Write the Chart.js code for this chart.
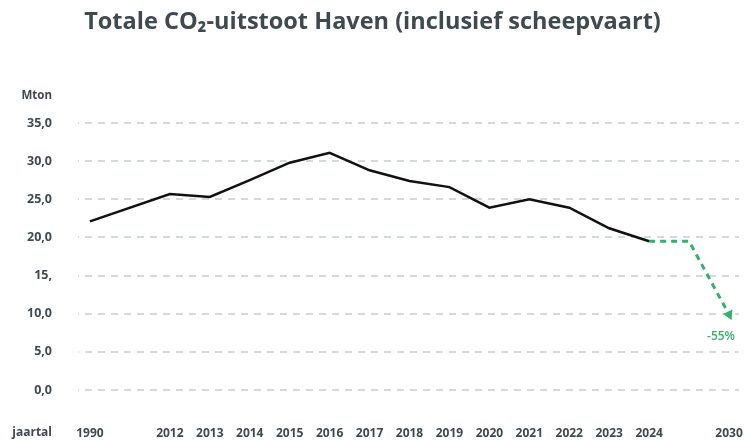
<!DOCTYPE html>
<html>
<head>
<meta charset="utf-8">
<script src="https://cdn.jsdelivr.net/npm/chart.js@4"></script>
<style>
  html, body { margin: 0; padding: 0; background: #fff; }
  #wrap { width: 745px; height: 441px; }
</style>
</head>
<body>
<div id="wrap"><canvas id="co2-chart"></canvas></div>
<script>
// x-axis labels (blank slots are the gaps 1990-2012 and 2024-2030)
const labels = ['1990', '', '2012', '2013', '2014', '2015', '2016', '2017', '2018', '2019', '2020', '2021', '2022', '2023', '2024', '', '2030'];
// total emissions, Mton
const uitstoot = [22.1, null, 25.7, 25.3, 27.5, 29.8, 31.1, 28.8, 27.4, 26.6, 23.9, 25.0, 23.9, 21.2, 19.5, null, null];
// target path to -55%
const doel = [null, null, null, null, null, null, null, null, null, null, null, null, null, null, 19.5, 19.5, 9.9];
const yTicks = [0, 5, 10, 15, 20, 25, 30, 35];
const yTickLabels = ['0,0', '5,0', '10,0', '15,', '20,0', '25,0', '30,0', '35,0'];

const textColor = '#3e4a4f';
const green = '#2fb36a';

function points(arr) {
  return arr.map((v, i) => ({ x: i, y: v })).filter(p => p.y !== null);
}

const extraText = {
  id: 'extraText',
  afterDraw(chart) {
    const { ctx, scales: { x, y } } = chart;
    ctx.save();
    ctx.fillStyle = textColor;
    ctx.font = '700 11.5px "Open Sans"';
    ctx.textAlign = 'right';
    ctx.textBaseline = 'middle';
    ctx.fillText('Mton', 52, y.getPixelForValue(35) - 27);
    ctx.font = '700 12px "Open Sans"';
    ctx.fillText('jaartal', 52, y.bottom + 43);
    const last = doel.length - 1;
    ctx.fillStyle = green;
    ctx.textAlign = 'center';
    ctx.font = '600 12px "Open Sans"';
    ctx.fillText('-55%', x.getPixelForValue(last) - 8, y.getPixelForValue(doel[last]) + 22);
    ctx.restore();
  }
};

new Chart(document.getElementById('co2-chart'), {
  type: 'line',
  data: {
    datasets: [
      {
        data: points(uitstoot),
        borderColor: '#111',
        borderWidth: 2.5,
        pointRadius: 0,
        tension: 0
      },
      {
        data: points(doel),
        borderColor: green,
        borderWidth: 3,
        borderDash: [6, 5],
        tension: 0,
        pointRadius: [0, 0, 6],
        pointStyle: 'triangle',
        pointRotation: 155,
        pointBackgroundColor: green,
        pointBorderColor: green,
        pointBorderWidth: 0
      }
    ]
  },
  options: {
    responsive: true,
    maintainAspectRatio: false,
    animation: false,
    layout: { padding: 0 },
    plugins: {
      legend: { display: false },
      tooltip: { enabled: false },
      title: {
        display: true,
        text: 'Totale CO\u2082-uitstoot Haven (inclusief scheepvaart)',
        color: textColor,
        font: { family: 'Open Sans', size: 23.5, weight: '700' },
        padding: { top: 8, bottom: 86.8 }
      }
    },
    scales: {
      x: {
        type: 'linear',
        min: -0.3,
        max: 16.25,
        afterBuildTicks: s => { s.ticks = labels.map((l, i) => ({ value: i })); },
        afterFit: s => { s.height = 51; s.paddingLeft = 0; s.paddingRight = 0; },
        ticks: {
          callback: v => labels[v],
          color: textColor,
          font: { family: 'Open Sans', size: 12, weight: '700' },
          padding: 28,
          maxRotation: 0,
          autoSkip: false
        },
        grid: { display: false },
        border: { display: false }
      },
      y: {
        min: 0,
        max: 35,
        afterFit: s => { s.width = 78; s.paddingTop = 0; s.paddingBottom = 0; },
        afterBuildTicks: s => { s.ticks = yTicks.map(v => ({ value: v })); },
        ticks: {
          callback: (v, i) => yTickLabels[i],
          color: textColor,
          font: { family: 'Open Sans', size: 12.5, weight: '700' },
          padding: 26
        },
        grid: {
          color: '#d3dadd',
          lineWidth: 2,
          drawTicks: false
        },
        border: { display: false, dash: [7, 6], dashOffset: 6 }
      }
    }
  },
  plugins: [extraText]
});
</script>
</body>
</html>
